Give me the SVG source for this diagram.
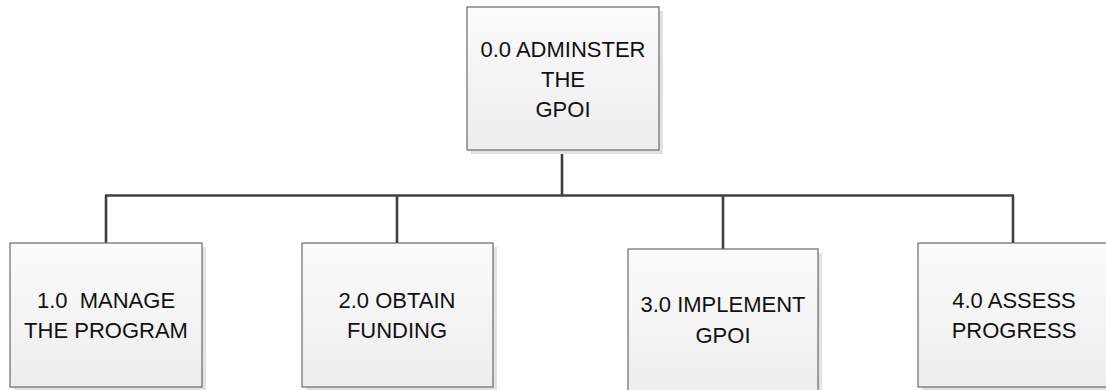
<svg xmlns="http://www.w3.org/2000/svg" width="1106" height="390" viewBox="0 0 1106 390">
<defs>
<linearGradient id="fill" x1="0" y1="0" x2="0" y2="1">
<stop offset="0" stop-color="#fbfbfb"/>
<stop offset="1" stop-color="#ededed"/>
</linearGradient>
</defs>
<style>
.shadow{fill:#e2e2e2}
.box{fill:url(#fill);stroke:#6a6a6a;stroke-width:1.2}
.lbl{font-family:"Liberation Sans",Arial,sans-serif;font-size:22px;fill:#111;text-anchor:middle;white-space:pre}
.conn{fill:none;stroke:#404040;stroke-width:2.6}
</style>
<rect width="1106" height="390" fill="#fff"/>
<g id="connectors">
<path class="conn" d="M562,150 V195.5"/>
<path class="conn" d="M105,195.5 H1014"/>
<path class="conn" d="M106,195.5 V243"/>
<path class="conn" d="M397,195.5 V243"/>
<path class="conn" d="M723,195.5 V249"/>
<path class="conn" d="M1013,195.5 V243"/>
</g>
<g id="n0">
<rect class="shadow" x="471" y="11" width="192" height="143"/>
<rect class="box" x="467" y="7" width="192" height="143"/>
<text class="lbl" x="563" y="57">0.0 ADMINSTER</text>
<text class="lbl" x="563" y="87">THE</text>
<text class="lbl" x="563" y="117">GPOI</text>
</g>
<g id="n1">
<rect class="shadow" x="14" y="247" width="192" height="144"/>
<rect class="box" x="10" y="243" width="192" height="144"/>
<text class="lbl" x="106" y="308" xml:space="preserve">1.0  MANAGE</text>
<text class="lbl" x="106" y="338">THE PROGRAM</text>
</g>
<g id="n2">
<rect class="shadow" x="306" y="247" width="191" height="144"/>
<rect class="box" x="302" y="243" width="191" height="144"/>
<text class="lbl" x="397" y="308">2.0 OBTAIN</text>
<text class="lbl" x="397" y="338">FUNDING</text>
</g>
<g id="n3">
<rect class="shadow" x="632" y="253" width="190" height="144"/>
<rect class="box" x="628" y="249" width="190" height="144"/>
<text class="lbl" x="723" y="312">3.0 IMPLEMENT</text>
<text class="lbl" x="723" y="343">GPOI</text>
</g>
<g id="n4">
<rect class="shadow" x="922" y="247" width="192" height="144"/>
<rect class="box" x="918" y="243" width="192" height="144"/>
<text class="lbl" x="1014" y="308">4.0 ASSESS</text>
<text class="lbl" x="1014" y="338">PROGRESS</text>
</g>
</svg>
